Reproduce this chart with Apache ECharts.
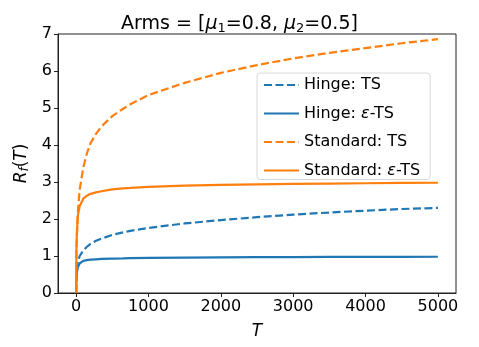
<!DOCTYPE html>
<html>
<head>
<meta charset="utf-8">
<script src="https://cdn.jsdelivr.net/npm/echarts@6/dist/echarts.min.js"></script>
<style>
  html, body { margin: 0; padding: 0; background: #fff; }
  #chart { width: 479px; height: 347px; }
</style>
</head>
<body>
<div id="chart"></div>
<script>
  // horizon T
  const T = [0, 5, 10, 25, 50, 100, 150, 200, 275, 350, 500, 650, 750, 1000, 1500, 2000, 2500, 3000, 3500, 4000, 4500, 5000]
  const hingeTS = [0, 0.45, 0.6, 0.85, 1.0, 1.15, 1.25, 1.33, 1.41, 1.47, 1.57, 1.64, 1.68, 1.76, 1.88, 1.97, 2.05, 2.12, 2.175, 2.225, 2.27, 2.3]
  const hingeEpsTS = [0, 0.45, 0.55, 0.7, 0.8, 0.87, 0.89, 0.9, 0.91, 0.92, 0.93, 0.935, 0.94, 0.95, 0.958, 0.964, 0.968, 0.972, 0.975, 0.977, 0.979, 0.98]
  const standardTS = [0, 1.1, 1.5, 2.2, 2.8, 3.4, 3.78, 4.05, 4.3, 4.5, 4.78, 4.98, 5.1, 5.35, 5.68, 5.95, 6.16, 6.34, 6.49, 6.62, 6.75, 6.86]
  const standardEpsTS = [0, 1.2, 1.6, 2.1, 2.35, 2.55, 2.63, 2.68, 2.72, 2.75, 2.8, 2.83, 2.84, 2.87, 2.9, 2.92, 2.935, 2.947, 2.957, 2.966, 2.974, 2.98]
  const xTicks = [0, 1000, 2000, 3000, 4000, 5000]

  const blue = '#1f77b4'
  const orange = '#ff7f0e'
  const font = 'DejaVu Sans'

  function pairs(ys) {
    return T.map((t, i) => [t, ys[i]])
  }
  function line(name, ys, color, dashed) {
    return {
      name: name,
      type: 'line',
      data: pairs(ys),
      symbol: 'none',
      smooth: false,
      color: color,
      lineStyle: { color: color, width: 2.2, type: dashed ? [8, 3.5] : 'solid' }
    }
  }

  const myChart = echarts.init(document.getElementById('chart'))
  myChart.setOption({
    animation: false,
    title: {
      text: '{t|Arms = [}{i|μ}{s|1}{t|=0.8, }{i|μ}{s|2}{t|=0.5]}',
      left: 'center',
      top: 9,
      textStyle: {
        fontWeight: 'normal',
        rich: {
          t: { fontFamily: font, fontSize: 19, fontWeight: 'normal', color: '#000' },
          i: { fontFamily: font, fontSize: 19, fontWeight: 'normal', fontStyle: 'italic', color: '#000' },
          s: { fontFamily: font, fontSize: 13, fontWeight: 'normal', color: '#000', padding: [8, 0, 0, 0] }
        }
      }
    },
    legend: {
      orient: 'vertical',
      left: 257,
      top: 73,
      padding: [4, 10, 1, 6],
      itemWidth: 35,
      itemHeight: 12,
      itemGap: 12.5,
      borderColor: '#d8d8d8',
      borderWidth: 1,
      borderRadius: 3,
      itemStyle: { opacity: 0 },
      data: ['Hinge: TS', 'Hinge: ε-TS', 'Standard: TS', 'Standard: ε-TS'],
      formatter: function (n) {
        const k = n.indexOf('ε')
        if (k < 0) return '{a|' + n + '}'
        return '{a|' + n.slice(0, k) + '}{i|ε}{a|' + n.slice(k + 1) + '}'
      },
      textStyle: {
        fontFamily: font,
        fontSize: 16,
        color: '#000',
        rich: {
          a: { fontFamily: font, fontSize: 16, color: '#000' },
          i: { fontFamily: font, fontSize: 16, fontStyle: 'italic', color: '#000' }
        }
      }
    },
    grid: {
      left: 58,
      right: 23,
      top: 34,
      bottom: 54,
      show: true,
      borderColor: '#222',
      borderWidth: 1
    },
    xAxis: {
      type: 'value',
      min: -250,
      max: 5250,
      name: 'T',
      nameLocation: 'middle',
      nameGap: 30,
      nameTextStyle: { fontFamily: font, fontSize: 17, fontStyle: 'italic', color: '#000' },
      axisLine: { show: true, onZero: false, lineStyle: { color: '#222' } },
      axisTick: { show: true, length: 4, customValues: xTicks, lineStyle: { color: '#222' } },
      axisLabel: {
        customValues: xTicks,
        formatter: v => String(v),
        margin: 6,
        fontFamily: font,
        fontSize: 16,
        color: '#000'
      },
      splitLine: { show: false }
    },
    yAxis: {
      type: 'value',
      min: 0,
      max: 7,
      interval: 1,
      name: '{i|R}{s|f}{t|(}{i|T}{t|)}',
      nameLocation: 'middle',
      nameGap: 24,
      nameTextStyle: {
        rich: {
          i: { fontFamily: font, fontSize: 17, fontStyle: 'italic', color: '#000' },
          t: { fontFamily: font, fontSize: 17, color: '#000' },
          s: { fontFamily: font, fontSize: 12, fontStyle: 'italic', color: '#000', padding: [7, 0, 0, 0] }
        }
      },
      axisLine: { show: true, onZero: false, lineStyle: { color: '#222' } },
      axisTick: { show: true, length: 4, lineStyle: { color: '#222' } },
      axisLabel: { margin: 6, fontFamily: font, fontSize: 16, color: '#000' },
      splitLine: { show: false }
    },
    series: [
      line('Hinge: TS', hingeTS, blue, true),
      line('Hinge: ε-TS', hingeEpsTS, blue, false),
      line('Standard: TS', standardTS, orange, true),
      line('Standard: ε-TS', standardEpsTS, orange, false)
    ]
  })
</script>
</body>
</html>
